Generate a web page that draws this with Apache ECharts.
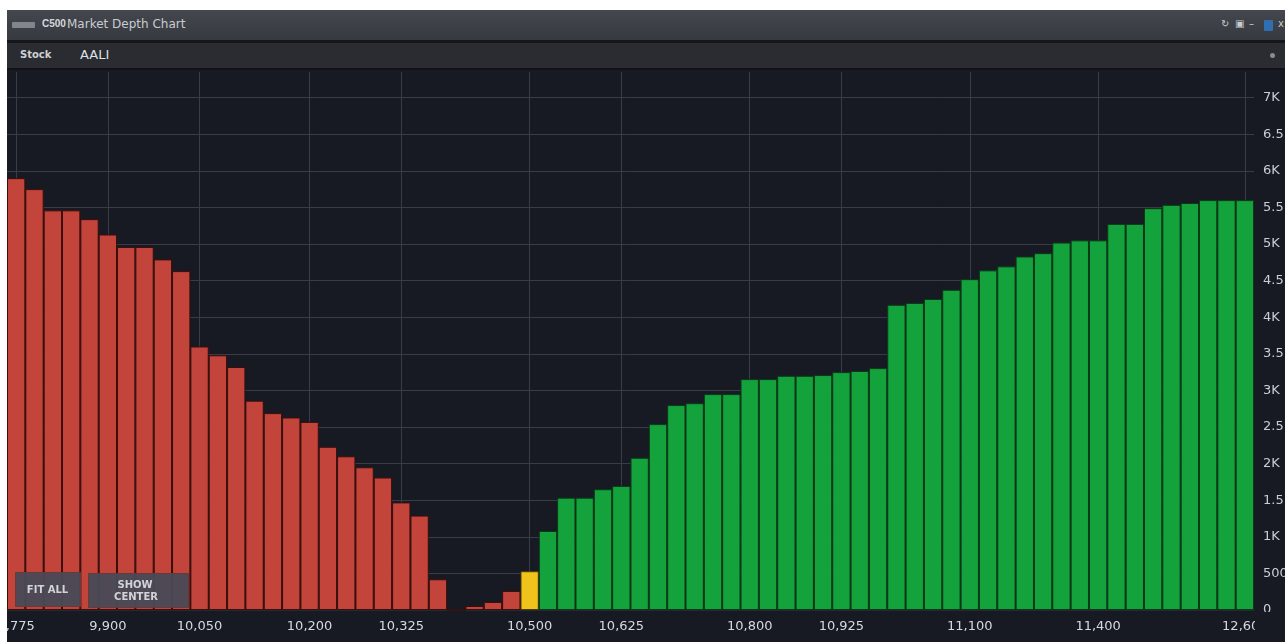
<!DOCTYPE html>
<html>
<head>
<meta charset="utf-8">
<script src="https://cdn.jsdelivr.net/npm/echarts@6/dist/echarts.min.js"></script>
<style>
  html, body { margin: 0; padding: 0; background: #ffffff; width: 1285px; height: 642px; overflow: hidden; font-family: "DejaVu Sans", "Noto Sans", sans-serif; }
  #panel { position: absolute; left: 7px; top: 10px; width: 1278px; height: 632px; background: #181a23; overflow: hidden; }
  #titlebar { position: absolute; left: 0; top: 0; width: 1278px; height: 30px; background: linear-gradient(#44474e, #36393f); }
  #titlebar .icon { position: absolute; left: 5px; top: 12px; width: 23px; height: 6px; background: #82858c; border-radius: 1px; }
  #titlebar .t1 { position: absolute; left: 35px; top: 8px; font-size: 10px; font-weight: bold; color: #d6d8dc; font-family: "Liberation Sans", sans-serif; }
  #titlebar .t2 { position: absolute; left: 60px; top: 7px; font-size: 12px; color: #c9ccd1; }
  #titlebar .ctl { position: absolute; top: 8px; font-size: 10px; color: #c8cbd0; }
  #titlebar .blue { position: absolute; left: 1257px; top: 10px; width: 9px; height: 11px; background: #2f6fb0; border-radius: 1px; }
  #sep1 { position: absolute; left: 0; top: 30px; width: 1278px; height: 3px; background: #15161a; }
  #stockrow { position: absolute; left: 0; top: 33px; width: 1278px; height: 25px; background: #2a2c31; }
  #stockrow .lab { position: absolute; left: 13px; top: 6px; font-size: 10px; font-weight: bold; color: #cfd1d5; }
  #stockrow .val { position: absolute; left: 73px; top: 4px; font-size: 13px; color: #dfe1e4; }
  #stockrow .dot { position: absolute; left: 1263px; top: 10px; width: 5px; height: 5px; border-radius: 50%; background: #8a8c91; }
  #sep2 { position: absolute; left: 0; top: 58px; width: 1278px; height: 2px; background: #121317; }
  #chart { position: absolute; left: 0; top: 60px; width: 1278px; height: 572px; }
</style>
</head>
<body>
<div id="panel">
  <div id="titlebar">
    <div class="icon"></div>
    <div class="t1">C500</div>
    <div class="t2">Market Depth Chart</div>
    <div class="ctl" style="left:1214px;">↻</div>
    <div class="ctl" style="left:1228px;">▣</div>
    <div class="ctl" style="left:1242px;">–</div>
    <div class="blue"></div>
    <div class="ctl" style="left:1271px;">x</div>
  </div>
  <div id="sep1"></div>
  <div id="stockrow">
    <div class="lab">Stock</div>
    <div class="val">AALI</div>
    <div class="dot"></div>
  </div>
  <div id="sep2"></div>
  <div id="chart"></div>
</div>
<script>
// ---- data ----
const prices = [
  '9,775','9,800','9,825','9,850','9,875','9,900','9,925','9,950','9,975','10,000',
  '10,050','10,075','10,100','10,125','10,150','10,175','10,200','10,225','10,250','10,275',
  '10,300','10,325','10,350','10,375','10,400','10,425','10,450','10,475','10,500','10,525',
  '10,550','10,575','10,600','10,625','10,650','10,675','10,700','10,725','10,750','10,775',
  '10,800','10,825','10,850','10,875','10,900','10,925','10,950','10,975','11,000','11,025',
  '11,050','11,075','11,100','11,150','11,200','11,250','11,300','11,325','11,350','11,400',
  '11,500','11,600','11,800','12,000','12,200','12,400','12,500','12,600'
];
const tickLabels = ['9,775','9,900','10,050','10,200','10,325','10,500','10,625','10,800','10,925','11,100','11,400','12,600'];
const bidVolumes = [5900, 5750, 5460, 5460, 5340, 5130, 4960, 4960, 4790, 4630,
                    3600, 3480, 3320, 2860, 2690, 2630, 2570, 2230, 2100, 1950,
                    1810, 1470, 1290, 420, 0, 55, 110, 260];
const lastVolume = 530;
const askVolumes = [1080, 1535, 1535, 1650, 1695, 2080, 2540, 2800, 2825, 2950,
                    2950, 3155, 3155, 3200, 3200, 3210, 3250, 3265, 3305, 4170,
                    4195, 4250, 4375, 4520, 4640, 4695, 4830, 4875, 5020, 5050,
                    5050, 5275, 5275, 5490, 5535, 5560, 5600, 5600, 5600];
const yTicks = { min: 0, max: 7350, interval: 500 };

// ---- build ----
const lastIdx = bidVolumes.length;
const bidData = prices.map((p, i) => i < lastIdx ? bidVolumes[i] : '-');
const lastData = prices.map((p, i) => i === lastIdx ? lastVolume : '-');
const askData = prices.map((p, i) => i > lastIdx ? askVolumes[i - lastIdx - 1] : '-');
const showTick = (idx) => tickLabels.indexOf(prices[idx]) >= 0;

const BG = '#181a23';
const GRID = '#383c48';
const BTN_TEXT = { fill: '#d2d4d9', font: 'bold 10px "DejaVu Sans"', align: 'center', verticalAlign: 'middle' };

const chart = echarts.init(document.getElementById('chart'), null, { renderer: 'canvas' });
chart.setOption({
  animation: false,
  backgroundColor: BG,
  grid: { left: 0, right: 31, top: 2, bottom: 32, containLabel: false, outerBoundsMode: 'none' },
  xAxis: {
    type: 'category',
    data: prices,
    boundaryGap: true,
    axisLine: { show: true, lineStyle: { color: '#262934', width: 1 } },
    axisTick: { show: false },
    axisLabel: {
      interval: (idx) => showTick(idx),
      color: '#d6d9df', fontSize: 13, margin: 10,
      fontFamily: 'DejaVu Sans'
    },
    splitLine: {
      show: true, alignWithLabel: true,
      interval: (idx) => showTick(idx),
      lineStyle: { color: GRID, width: 1 }
    }
  },
  yAxis: {
    type: 'value',
    position: 'right',
    min: yTicks.min, max: yTicks.max, interval: yTicks.interval,
    axisLine: { show: false },
    axisTick: { show: false },
    axisLabel: {
      showMaxLabel: false,
      color: '#c9cdd4', fontSize: 13, margin: 9, fontFamily: 'DejaVu Sans',
      formatter: (v) => v === 0 ? '0' : (v >= 1000 ? (v / 1000) + 'K' : String(v))
    },
    splitLine: { show: true, showMaxLine: false, lineStyle: { color: GRID, width: 1 } }
  },
  series: [
    { name: 'Bid', type: 'bar', data: bidData, barGap: '-100%', barCategoryGap: '0%',
      itemStyle: { color: '#c3443a', borderColor: '#3a0f0c', borderWidth: 1 } },
    { name: 'Last', type: 'bar', data: lastData, barGap: '-100%', barCategoryGap: '0%',
      itemStyle: { color: '#efc21c', borderColor: '#4a3a08', borderWidth: 1 } },
    { name: 'Ask', type: 'bar', data: askData, barGap: '-100%', barCategoryGap: '0%',
      itemStyle: { color: '#13a23c', borderColor: '#0a3a17', borderWidth: 1 } }
  ],
  graphic: [
    { type: 'rect', left: 1248, top: 542, z: 100, shape: { width: 30, height: 30 }, style: { fill: BG } },
    { type: 'rect', left: 8, top: 502, z: 100, shape: { width: 65, height: 34 }, style: { fill: 'rgba(72,74,86,0.95)', stroke: '#6a3a3a', lineWidth: 1 } },
    { type: 'text', x: 40.5, y: 520, z: 101, style: Object.assign({ text: 'FIT ALL' }, BTN_TEXT) },
    { type: 'rect', left: 81, top: 503, z: 100, shape: { width: 100, height: 34 }, style: { fill: 'rgba(72,74,86,0.95)', stroke: '#6a3a3a', lineWidth: 1 } },
    { type: 'text', x: 128, y: 515, z: 101, style: Object.assign({ text: 'SHOW' }, BTN_TEXT) },
    { type: 'text', x: 129, y: 527, z: 101, style: Object.assign({ text: 'CENTER' }, BTN_TEXT) }
  ]
});
</script>
</body>
</html>
